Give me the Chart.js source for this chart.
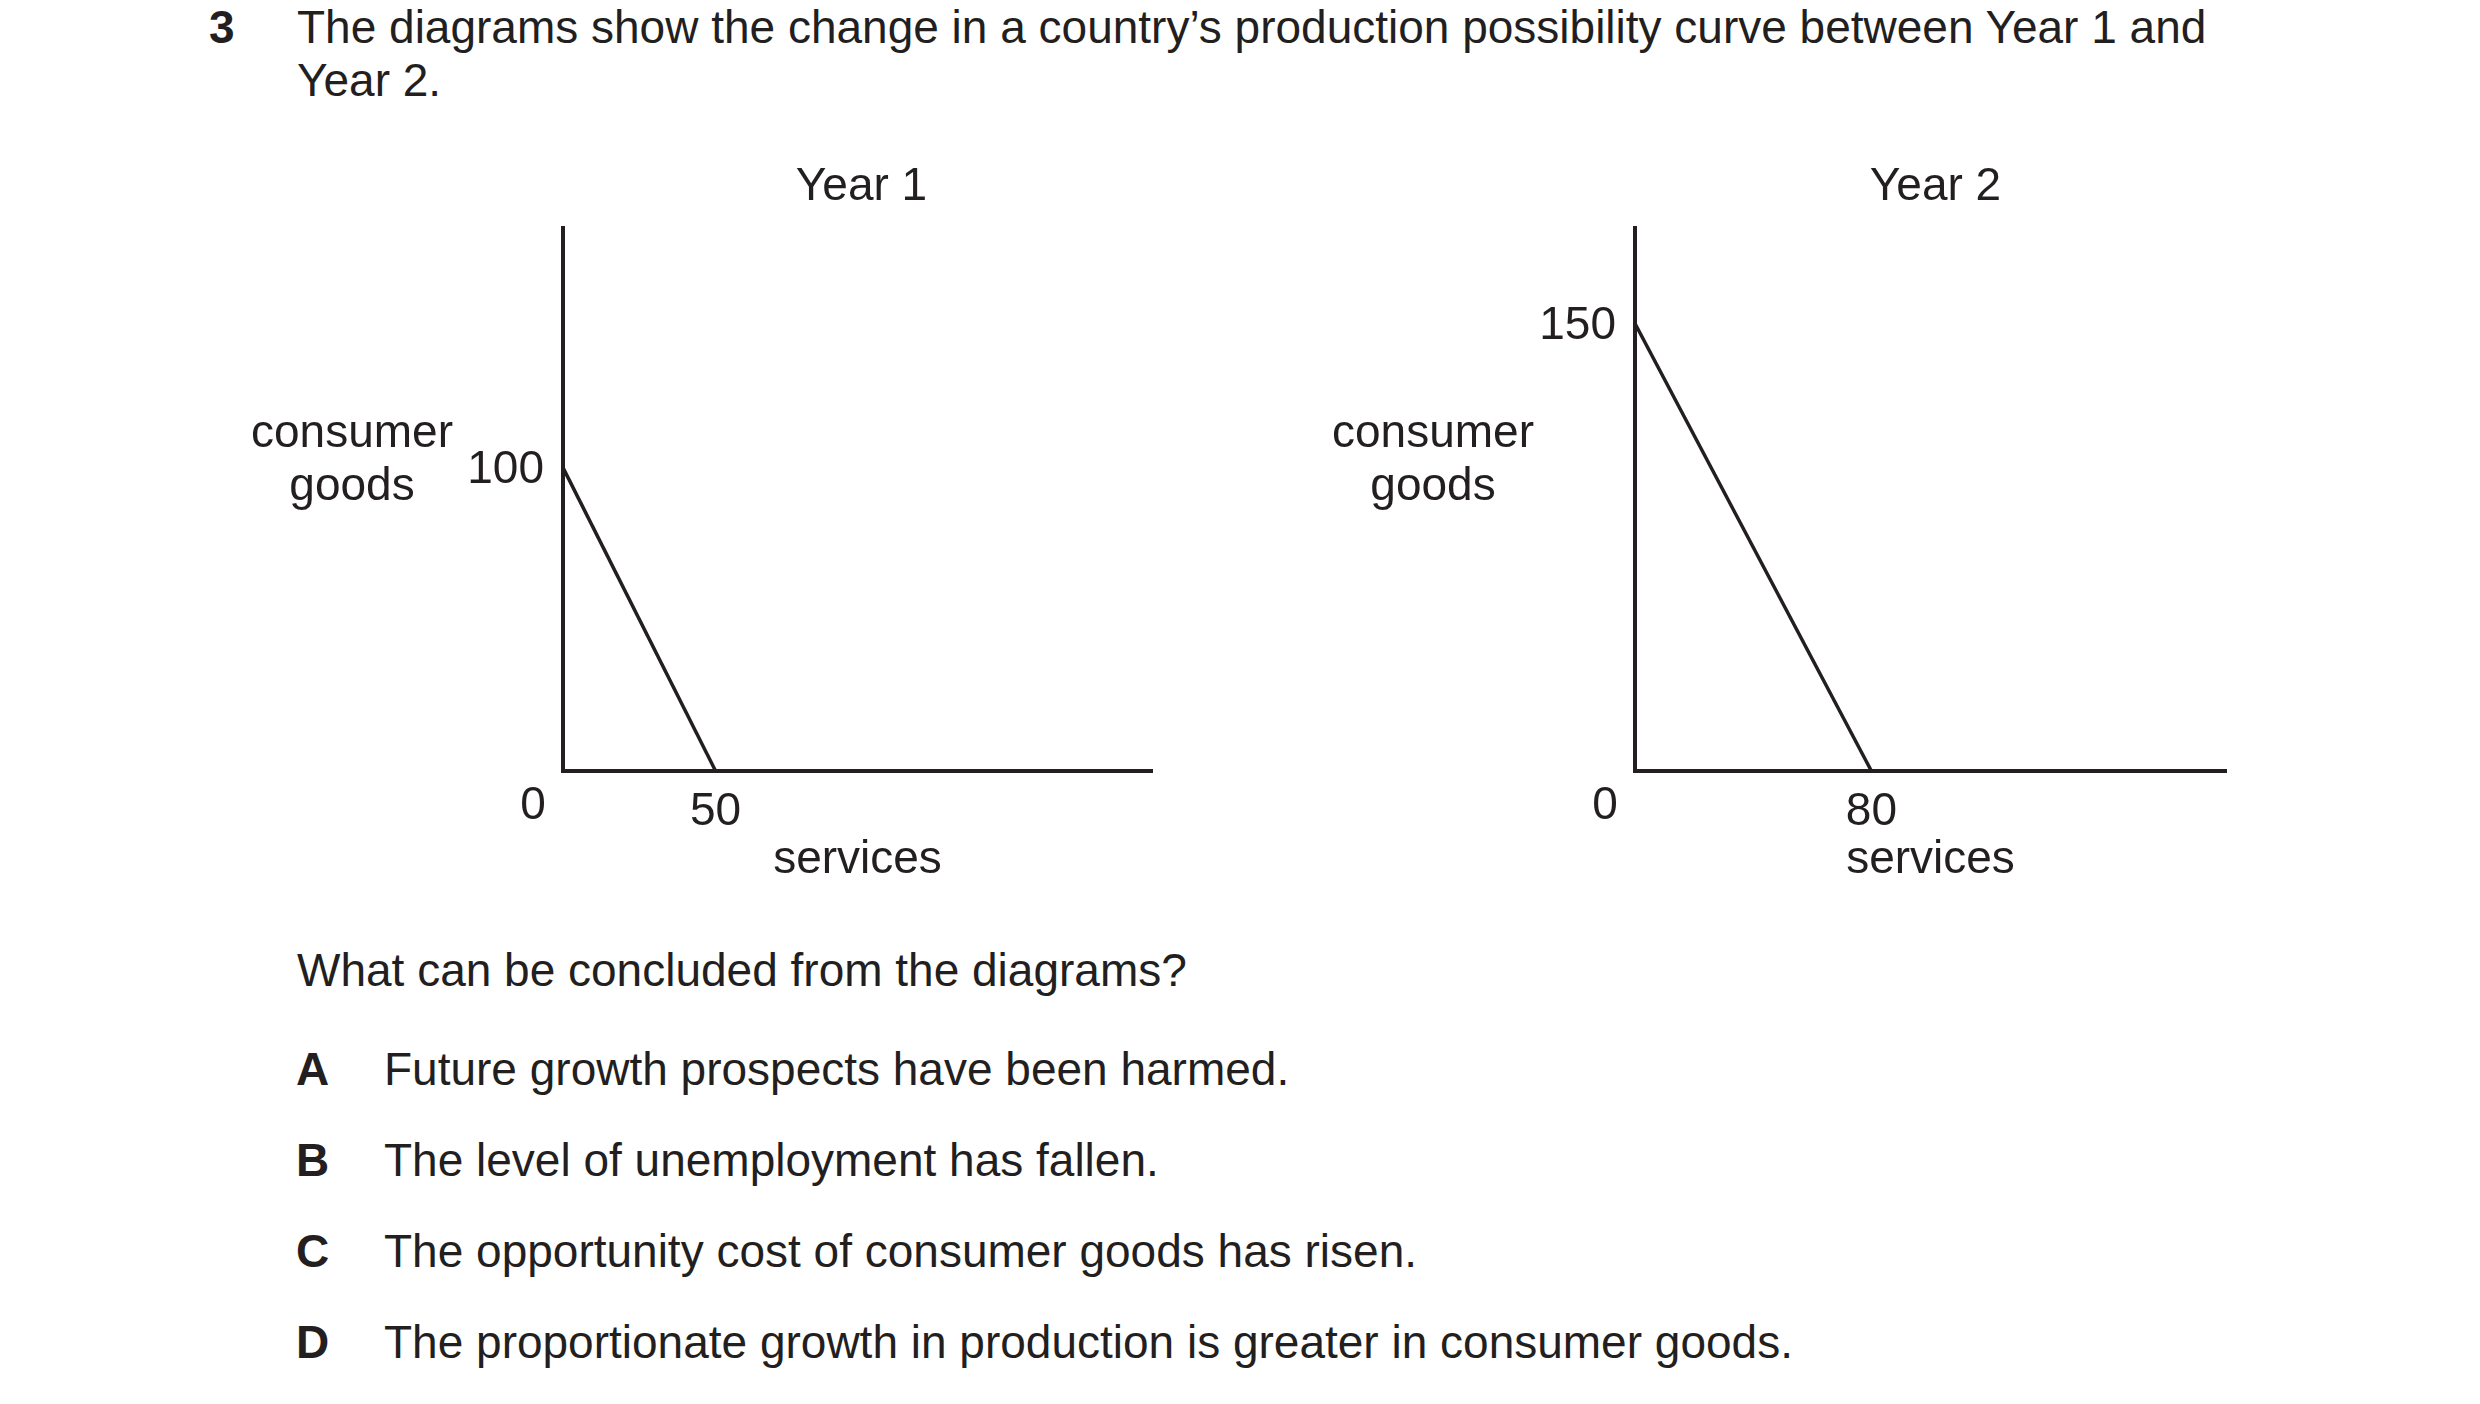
<!DOCTYPE html>
<html>
<head>
<meta charset="utf-8">
<script src="https://cdn.jsdelivr.net/npm/chart.js@4.4.0/dist/chart.umd.min.js"></script>
<style>
  html, body { margin: 0; padding: 0; background: #ffffff; }
  body { width: 2480px; height: 1404px; position: relative; overflow: hidden;
         font-family: "Liberation Sans", Arial, sans-serif; color: #231f20; }
  .t { position: absolute; font-size: 46px; line-height: 46px; white-space: nowrap; }
  .b { font-weight: bold; }
  .cv { position: absolute; top: 0; width: 1240px; height: 900px; }
</style>
</head>
<body>
<div class="t b" style="left:209px; top:4px;">3</div>
<div class="t" style="left:297px; top:4px;">The diagrams show the change in a country’s production possibility curve between Year 1 and</div>
<div class="t" style="left:297px; top:57px;">Year 2.</div>

<div class="cv" style="left:0px;"><canvas id="c1" width="1240" height="900"></canvas></div>
<div class="cv" style="left:1240px;"><canvas id="c2" width="1240" height="900"></canvas></div>

<div class="t" style="left:297px; top:947px;">What can be concluded from the diagrams?</div>
<div class="t b" style="left:296px; top:1046px;">A</div>
<div class="t" style="left:384px; top:1046px;">Future growth prospects have been harmed.</div>
<div class="t b" style="left:296px; top:1137px;">B</div>
<div class="t" style="left:384px; top:1137px;">The level of unemployment has fallen.</div>
<div class="t b" style="left:296px; top:1228px;">C</div>
<div class="t" style="left:384px; top:1228px;">The opportunity cost of consumer goods has risen.</div>
<div class="t b" style="left:296px; top:1319px;">D</div>
<div class="t" style="left:384px; top:1319px;">The proportionate growth in production is greater in consumer goods.</div>

<script>
// ---- data ----
const chartTitles = ["Year 1", "Year 2"];
const xAxisTitle = "services";
const yAxisTitle = ["consumer", "goods"];
const originLabel = "0";

const year1Services = [0, 50];
const year1Goods = [100, 0];
const year2Services = [0, 80];
const year2Goods = [150, 0];

const year1XTicks = [50];
const year1YTicks = [100];
const year2XTicks = [80];
const year2YTicks = [150];

const year1XMax = 193, year1YMax = 179;
const year2XMax = 200, year2YMax = 182;

// ---- styling ----
const INK = "#231f20";
const FONT_SIZE = 46;
Chart.defaults.font.family = '"Liberation Sans", Arial, sans-serif';
Chart.defaults.font.size = FONT_SIZE;
Chart.defaults.color = INK;
Chart.defaults.devicePixelRatio = 1;

const textPlugin = {
  id: "pageText",
  afterDraw(chart, args, opts) {
    const ctx = chart.ctx;
    const area = chart.chartArea;
    const xs = chart.scales.x, ys = chart.scales.y;
    ctx.save();
    ctx.fillStyle = INK;
    ctx.font = FONT_SIZE + 'px "Liberation Sans", Arial, sans-serif';
    ctx.textAlign = "center";
    ctx.textBaseline = "alphabetic";
    // chart title
    ctx.fillText(opts.title, (area.left + area.right) / 2 + opts.titleDx, area.top - 28);
    // y axis title (horizontal, two lines)
    const cx = area.left + opts.yTitleDx;
    ctx.fillText(yAxisTitle[0], cx, 447);
    ctx.fillText(yAxisTitle[1], cx, 500);
    // origin label
    ctx.textBaseline = "middle";
    ctx.fillText(originLabel, xs.getPixelForValue(0) - 30, ys.getPixelForValue(0) + 35);
    ctx.restore();
  }
};

function makeChart(id, services, goods, xTicks, yTicks, xMax, yMax, title, padRight, yWidth, titleDx, yTitleDx) {
  const pts = services.map((s, i) => ({ x: s, y: goods[i] }));
  return new Chart(document.getElementById(id), {
    type: "scatter",
    data: {
      datasets: [{
        data: pts,
        showLine: true,
        borderColor: INK,
        borderWidth: 3.5,
        pointRadius: 0,
        fill: false,
        clip: false
      }]
    },
    options: {
      responsive: false,
      animation: false,
      events: [],
      layout: { padding: { left: 0, right: padRight, top: 228, bottom: 0 } },
      plugins: {
        legend: { display: false },
        tooltip: { enabled: false },
        title: { display: false },
        pageText: { title: title, titleDx: titleDx, yTitleDx: yTitleDx }
      },
      scales: {
        x: {
          type: "linear",
          min: 0, max: xMax,
          grid: { display: false, drawTicks: false },
          border: { display: true, color: INK, width: 4 },
          ticks: { padding: 14, color: INK, font: { size: FONT_SIZE } },
          afterBuildTicks(scale) { scale.ticks = xTicks.map(v => ({ value: v })); },
          afterFit(scale) { scale.height = 129; },
          title: { display: true, text: xAxisTitle, color: INK, font: { size: FONT_SIZE }, padding: { top: 0, bottom: 12 } }
        },
        y: {
          type: "linear",
          min: 0, max: yMax,
          grid: { display: false, drawTicks: false },
          border: { display: true, color: INK, width: 4 },
          ticks: { padding: 19, labelOffset: 3, color: INK, font: { size: FONT_SIZE } },
          afterBuildTicks(scale) { scale.ticks = yTicks.map(v => ({ value: v })); },
          afterFit(scale) { scale.width = yWidth; }
        }
      }
    },
    plugins: [textPlugin]
  });
}

makeChart("c1", year1Services, year1Goods, year1XTicks, year1YTicks, year1XMax, year1YMax, chartTitles[0], 88, 563, 4, -211);
makeChart("c2", year2Services, year2Goods, year2XTicks, year2YTicks, year2XMax, year2YMax, chartTitles[1], 254, 395, 5, -202);
</script>
</body>
</html>
